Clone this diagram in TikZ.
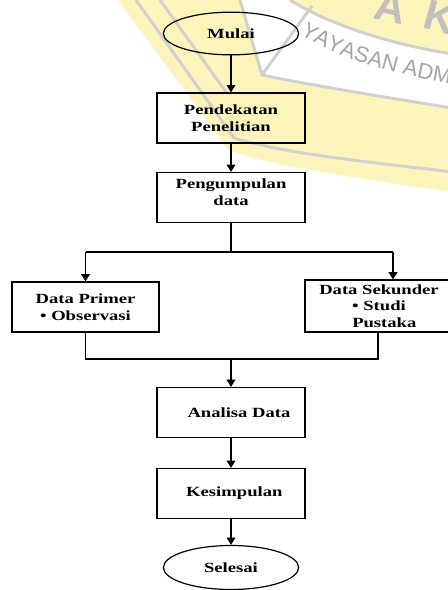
\documentclass[tikz,border=0pt]{standalone}
\usepackage{fontspec}
\setmainfont{Liberation Serif}
\newfontfamily\boxfont{Liberation Serif Bold}[FakeStretch=1.33]
\newfontfamily\wmfont{Liberation Sans}
\usetikzlibrary{shapes.geometric,arrows.meta,decorations.text}
\definecolor{wmyellow}{RGB}{253,244,188}
\definecolor{wmgray}{RGB}{208,208,208}
\definecolor{wmtext}{RGB}{165,165,165}
\definecolor{wmletter}{RGB}{192,192,192}
\begin{document}
\begin{tikzpicture}[x=0.75pt,y=-0.75pt,
  boxtext/.style={font=\boxfont\fontsize{10.5}{12.5}\selectfont},
  box/.style={boxtext, draw, line width=0.9pt, rectangle, minimum width=111pt,
    minimum height=37.5pt, inner sep=0pt, align=center},
  oval/.style={boxtext, draw, line width=0.9pt, ellipse, minimum width=101.5pt,
    minimum height=32pt, inner sep=0pt},
  link/.style={line width=1.3pt},
  arr/.style={link, -{Triangle[width=6.5pt,length=5.5pt]}},
  wmline/.style={wmgray, line width=2.2pt}]
\useasboundingbox (0,0) rectangle (448,590);
% ---- watermark (background) ----
\begin{scope}
\clip (0,0) rectangle (448,590);
\fill[wmyellow] (118,0) -- (228,150) .. controls (280,168) and (370,180) .. (452,192) -- (452,0) -- cycle;
\fill[white] (240,0) -- (262,75) .. controls (310,85) and (390,98) .. (452,108)
  -- (452,54) .. controls (390,44) and (330,25) .. (290,0) -- cycle;
\draw[wmline] (136,0) -- (234,138) .. controls (290,155) and (380,163) .. (452,172);
\draw[wmline] (160,0) -- (226,92);
\draw[wmline] (240,0) -- (262,75) .. controls (310,85) and (390,98) .. (452,108);
\draw[wmline] (262,75) -- (312,6);
\draw[wmline] (290,0) .. controls (330,25) and (390,44) .. (452,54);
\node[font=\wmfont\bfseries\fontsize{32}{32}\selectfont, text=wmletter, rotate=-12, inner sep=0pt] (wmA) at (391,7) {A};
\node[font=\wmfont\bfseries\fontsize{32}{32}\selectfont, text=wmletter, rotate=-15, inner sep=0pt] (wmK) at (440,17) {K};
\path[decorate, decoration={text along path, text align=left,
  text={|\wmfont\fontsize{16.5}{16.5}\selectfont\color{wmtext}|YAYASAN ADMI}}]
  (300,34) .. controls (340,60) and (390,74) .. (475,88);
\end{scope}
% ---- diagram ----
\node[oval] (mulai) at (231,33.5) {Mulai};
\node[box] (pend) at (231,118) {Pendekatan\\Penelitian};
\node[box] (peng) at (231,197.5) {Pengumpulan\\data\rule[-8pt]{0pt}{8pt}};
\node[box, minimum width=110.25pt] (prim) at (85.5,307) {Data Primer\\• Observasi};
\node[box, minimum width=111pt, minimum height=39pt] (sek) at (379,306)
  {\rule{0pt}{4pt}Data Sekunder\\• Studi\\\hspace*{8pt}Pustaka};
\node[box] (anal) at (231,412.5) {\hspace*{12pt}Analisa Data};
\node[box] (kes) at (231,493.5) {\hspace*{5pt}Kesimpulan};
\node[oval, minimum height=33pt] (sel) at (231,567.5) {Selesai};
\coordinate (split) at (231,252);
\coordinate (sl) at (85.5,252);
\coordinate (sr) at (393,252);
\coordinate (ml) at (85.5,359);
\coordinate (mr) at (378,359);
\coordinate (merge) at (231,359);
\draw[arr] (mulai.south) -- (pend.north);
\draw[arr] (pend.south) -- (peng.north);
\draw[link] (peng.south) -- (split);
\draw[link] (sl) -- (sr);
\draw[arr] (sl) -- (prim.north);
\draw[arr] (sr) -- (sr |- sek.north);
\draw[link] (prim.south) -- (ml) -- (mr) -- (mr |- sek.south);
\draw[arr] (merge) -- (anal.north);
\draw[arr] (anal.south) -- (kes.north);
\draw[arr] (kes.south) -- (sel.north);
\end{tikzpicture}
\end{document}
